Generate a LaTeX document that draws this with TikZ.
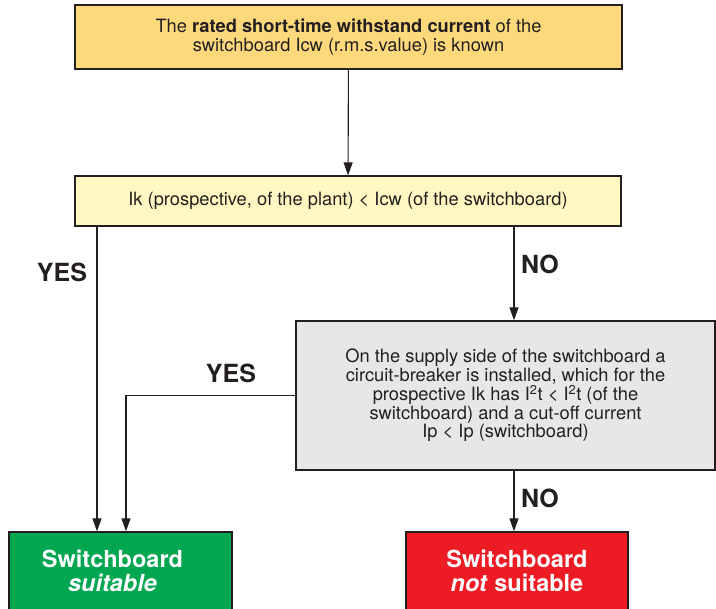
\documentclass[tikz,border=0pt]{standalone}
\usepackage{fontspec}
\setmainfont{TeX Gyre Heros}
\usetikzlibrary{arrows.meta}
\definecolor{ink}{HTML}{231F20}
\definecolor{topfill}{HTML}{FDD97C}
\definecolor{condfill}{HTML}{FFF8C2}
\definecolor{greyfill}{HTML}{E6E7E8}
\definecolor{okfill}{HTML}{00A650}
\definecolor{nofill}{HTML}{ED1C24}
\begin{document}
\begin{tikzpicture}[x=1pt, y=-1pt,
  box/.style={draw=ink, line width=1.3pt, align=center, inner sep=0pt, text=ink, font=\fontsize{18.3}{18.8}\selectfont},
  result/.style={box, text=white, font=\bfseries\fontsize{23.5}{24.3}\selectfont},
  answer/.style={text=ink, font=\bfseries\fontsize{25}{25}\selectfont},
  flow/.style={draw=ink, line width=1.1pt, -{Triangle[length=13pt,width=9pt]}}]
\useasboundingbox (0,0) rectangle (716,609);
% boxes
\node[box, fill=topfill, minimum width=547pt, minimum height=64pt] (known) at (348.5,37)
  {The \textbf{rated short-time withstand current} of the\\switchboard Icw (r.m.s.value) is known};
\node[box, fill=condfill, minimum width=546pt, minimum height=50pt] (cond) at (348,201)
  {Ik (prospective, of the plant) < Icw (of the switchboard)};
\node[box, fill=greyfill, minimum width=419pt, minimum height=149pt] (breaker) at (505.5,395.5)
  {On the supply side of the switchboard a\\circuit-breaker is installed, which for the\\prospective Ik has I\textsuperscript{2}t < I\textsuperscript{2}t (of the\\switchboard) and a cut-off current\\Ip < Ip (switchboard)};
\node[result, fill=okfill, minimum width=223pt, minimum height=78pt] (ok) at (120.5,571)
  {\hspace*{-16pt}Switchboard\\\hspace*{-16pt}\textit{suitable}};
\node[result, fill=nofill, minimum width=222pt, minimum height=78pt] (notok) at (517,571)
  {Switchboard\\\textit{not} suitable};
% columns of the connectors
\coordinate (yesA) at (97,0);
\coordinate (yesB) at (126,0);
\coordinate (noX) at (514,0);
% connectors
\draw[flow] (known) -- (cond);
\draw[flow] (cond.south -| yesA) -- (ok.north -| yesA);
\draw[flow] (cond.south -| noX) -- (breaker.north -| noX);
\draw[flow] (breaker.west) -| (ok.north -| yesB);
\draw[flow] (breaker.south -| noX) -- (notok.north -| noX);
% answers
\node[answer] (yes1) at (62,272) {YES};
\node[answer] (no1) at (540,264) {NO};
\node[answer] (yes2) at (231,373) {YES};
\node[answer] (no2) at (540,498) {NO};
\end{tikzpicture}
\end{document}
